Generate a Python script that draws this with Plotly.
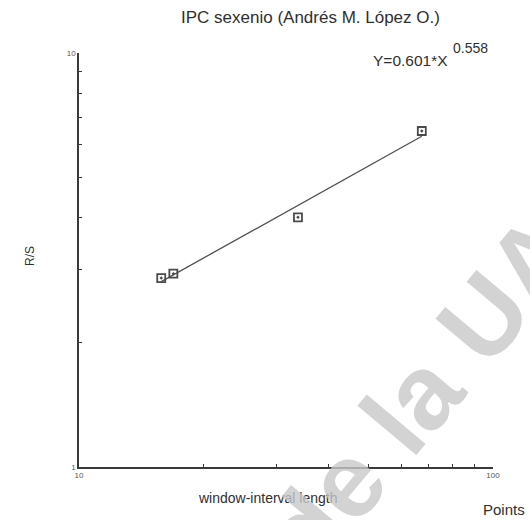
import plotly.graph_objects as go

# Rescaled-range (R/S) analysis of the six-year IPC series
window_length = [15.8, 16.9, 33.8, 67.3]
rs_value = [2.86, 2.93, 4.01, 6.48]

# Power-law fit  R/S = a * n^b
fit_a = 0.601
fit_b = 0.558

x_ticks = [10, 100]
x_tick_labels = ["10", "100"]
y_ticks = [1, 10]
y_tick_labels = ["1", "10"]
minor_x = [20, 30, 40, 50, 60, 70, 80, 90]
minor_y = [2, 3, 4, 5, 6, 7, 8, 9]

W, H = 530, 520
L, R, T, B = 79, 37, 53, 53
PW, PH = W - L - R, H - T - B

AX = "#3a3a3a"
TXT = "#2f2f2f"
FONT = "Liberation Sans, Arial, sans-serif"


def px(x):
    return (x - L) / PW


def py(y):
    return (H - B - y) / PH


fit_x = [min(window_length), max(window_length)]
fit_y = [fit_a * v ** fit_b for v in fit_x]

fig = go.Figure()
fig.add_trace(go.Scatter(
    x=fit_x, y=fit_y, mode="lines",
    line=dict(color="#505050", width=1.3),
    hoverinfo="skip", showlegend=False,
))
fig.add_trace(go.Scatter(
    x=window_length, y=rs_value, mode="markers",
    marker=dict(symbol="square-open-dot", size=8, color="#4a4a4a",
                line=dict(width=1.8, color="#4a4a4a")),
    showlegend=False,
))

axis_common = dict(
    type="log", showgrid=False, zeroline=False,
    showline=True, linecolor=AX, linewidth=1.5,
    ticks="inside", ticklen=6, tickwidth=1.2, tickcolor=AX,
    tickfont=dict(family=FONT, size=8, color="#555555"),
    mirror=False,
)

fig.update_xaxes(
    range=[1, 2], tickvals=x_ticks, ticktext=x_tick_labels,
    minor=dict(tickvals=minor_x, ticks="inside", ticklen=3,
               tickwidth=1, tickcolor=AX),
    **axis_common,
)
fig.update_yaxes(
    range=[0, 1], tickvals=y_ticks, ticktext=y_tick_labels,
    minor=dict(tickvals=minor_y, ticks="inside", ticklen=3,
               tickwidth=1, tickcolor=AX),
    **axis_common,
)

ann = []
# title
ann.append(dict(text="IPC sexenio (Andrés M. López O.)", x=px(310), y=py(17),
                font=dict(family=FONT, size=17, color=TXT)))
# fit equation
ann.append(dict(text="Y=%.3f*X" % fit_a, x=px(450), y=py(61), xanchor="right",
                font=dict(family=FONT, size=15.5, color=TXT)))
ann.append(dict(text="%.3f" % fit_b, x=px(451), y=py(48), xanchor="left",
                font=dict(family=FONT, size=14, color=TXT)))
# axis titles
ann.append(dict(text="window-interval length", x=px(268), y=py(498),
                font=dict(family=FONT, size=14, color=TXT)))
ann.append(dict(text="Points", x=px(504), y=py(509),
                font=dict(family=FONT, size=15, color=TXT)))
ann.append(dict(text="R/S", x=px(30), y=py(256), textangle=-90,
                font=dict(family=FONT, size=12, color=TXT)))
# library watermark
ann.append(dict(text="<b>de la UA</b>", x=px(421), y=py(392), textangle=-50,
                font=dict(family=FONT, size=106, color="rgba(200,200,200,0.8)"),
                ))

for a in ann:
    a.setdefault("xanchor", "center")
    a.update(xref="paper", yref="paper", yanchor="middle", showarrow=False)
fig.update_layout(annotations=ann)

fig.update_layout(
    width=W, height=H,
    margin=dict(l=L, r=R, t=T, b=B),
    plot_bgcolor="white", paper_bgcolor="white",
    showlegend=False,
)

fig.write_html("out.html")
